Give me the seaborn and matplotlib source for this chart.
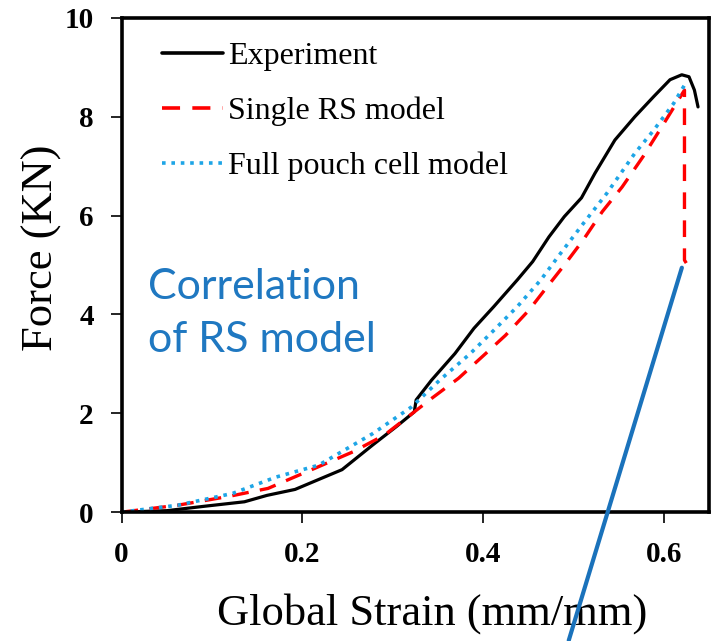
import numpy as np
import pandas as pd
import matplotlib
matplotlib.use("Agg")
import matplotlib.pyplot as plt
import seaborn as sns

exp_strain = [0.0, 0.05, 0.092, 0.136, 0.161, 0.192, 0.218, 0.244, 0.278, 0.304, 0.324, 0.326,
              0.343, 0.369, 0.390, 0.412, 0.438, 0.455, 0.473, 0.490, 0.509, 0.524, 0.546,
              0.568, 0.589, 0.607, 0.620, 0.628, 0.634, 0.638]
exp_force = [0.0, 0.03, 0.12, 0.21, 0.34, 0.46, 0.66, 0.86, 1.36, 1.73, 2.03, 2.27,
             2.67, 3.21, 3.72, 4.16, 4.70, 5.07, 5.57, 5.98, 6.36, 6.86, 7.53,
             8.00, 8.41, 8.75, 8.85, 8.81, 8.54, 8.20]

rs_strain = [0.0, 0.062, 0.119, 0.162, 0.218, 0.256, 0.291, 0.317, 0.343, 0.373, 0.403,
             0.425, 0.451, 0.468, 0.490, 0.511, 0.532, 0.554, 0.577, 0.598, 0.623, 0.623, 0.625]
rs_force = [0.0, 0.14, 0.32, 0.48, 0.92, 1.22, 1.56, 1.93, 2.30, 2.71, 3.21,
            3.58, 4.09, 4.49, 5.00, 5.51, 6.08, 6.58, 7.19, 7.80, 8.54, 5.10, 5.04]

pouch_strain = [0.0, 0.062, 0.123, 0.171, 0.218, 0.278, 0.321, 0.352, 0.386, 0.412, 0.438,
                0.464, 0.486, 0.511, 0.537, 0.568, 0.589, 0.611, 0.623]
pouch_force = [0.0, 0.14, 0.38, 0.71, 0.95, 1.59, 2.13, 2.67, 3.21, 3.68, 4.16,
               4.70, 5.24, 5.84, 6.45, 7.26, 7.73, 8.27, 8.64]

series_names = ["Experiment", "Single RS model", "Full pouch cell model"]
x_ticks = [0, 0.2, 0.4, 0.6]
x_tick_labels = ["0", "0.2", "0.4", "0.6"]
y_ticks = [0, 2, 4, 6, 8, 10]

sns.set_style("ticks")
plt.rcParams["font.family"] = ["Liberation Serif", "DejaVu Serif"]
plt.rcParams["text.color"] = "black"
plt.rcParams["axes.labelcolor"] = "black"
plt.rcParams["xtick.color"] = "black"
plt.rcParams["ytick.color"] = "black"

fig = plt.figure(figsize=(7.11, 6.41), dpi=100)
ax = fig.add_axes([0.171, 0.201, 0.826, 0.771])

sns.lineplot(x=exp_strain, y=exp_force, sort=False, estimator=None, ax=ax,
             color="black", lw=2.3, label=series_names[0])
sns.lineplot(x=rs_strain, y=rs_force, sort=False, estimator=None, ax=ax,
             color="#ff0000", lw=2.4, label=series_names[1])
sns.lineplot(x=pouch_strain, y=pouch_force, sort=False, estimator=None, ax=ax,
             color="#1ea5e6", lw=2.6, label=series_names[2])
ax.lines[1].set_linestyle((0, (5.0, 3.4)))
ax.lines[2].set_linestyle((0, (1.0, 1.6)))

ax.set_xlim(0, 0.65)
ax.set_ylim(0, 10)
ax.set_xticks(x_ticks)
ax.set_xticklabels(x_tick_labels)
ax.set_yticks(y_ticks)
for lab in ax.get_xticklabels() + ax.get_yticklabels():
    lab.set_fontweight("bold")
    lab.set_fontsize(21)
ax.tick_params(axis="both", direction="out", length=8, width=1.2, color="black")
ax.tick_params(axis="x", pad=13)
ax.tick_params(axis="y", pad=12)
for sp in ax.spines.values():
    sp.set_linewidth(2.6)
    sp.set_color("black")

ax.set_xlabel("Global Strain (mm/mm)", fontsize=32)
ax.set_ylabel("Force (KN)", fontsize=32)
ax.xaxis.set_label_coords(0.529, -0.164)
ax.yaxis.set_label_coords(-0.101, 0.536)

leg = ax.legend(loc="upper left", bbox_to_anchor=(0.02, 1.01), frameon=False,
                fontsize=23, handlelength=1.9, handletextpad=0.15, labelspacing=0.8)
for h in leg.get_lines():
    h.set_linewidth(2.6)

ax.text(0.045, 0.494, "Correlation\nof RS model", transform=ax.transAxes,
        fontsize=31, color="#1f78c1", family=["Lato", "DejaVu Sans"],
        va="top", ha="left", linespacing=1.47)

# callout line running from the end of the RS drop down past the axis
ax.annotate("", xy=(0.494, -2.65), xytext=(0.621, 5.0), xycoords="data",
            arrowprops=dict(arrowstyle="-", color="#1a72bb", lw=3.0),
            annotation_clip=False)

fig.savefig("out.png", dpi=100)
